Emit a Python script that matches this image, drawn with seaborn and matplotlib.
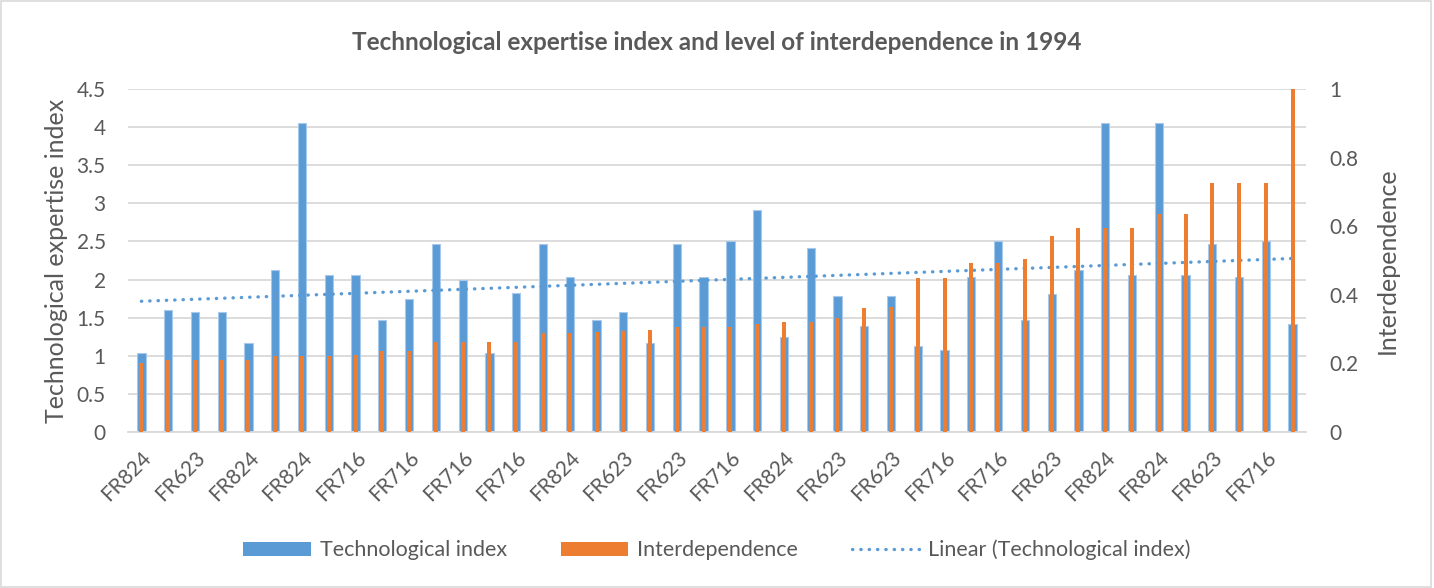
import matplotlib
matplotlib.use("Agg")
import matplotlib.pyplot as plt
import numpy as np
import seaborn as sns
from matplotlib.patches import Patch, Rectangle
from matplotlib.lines import Line2D
from matplotlib.ticker import FuncFormatter, MultipleLocator

# Values (44 categories, every other label shown)
shown_labels = ["FR824", "FR623", "FR824", "FR824", "FR716", "FR716", "FR716", "FR716",
                "FR824", "FR623", "FR623", "FR716", "FR824", "FR623", "FR623", "FR716",
                "FR716", "FR623", "FR824", "FR824", "FR623", "FR716"]

tech_index = [1.04, 1.60, 1.58, 1.58, 1.17, 2.12, 4.05, 2.06, 2.06, 1.47, 1.75, 2.46,
              1.99, 1.04, 1.83, 2.46, 2.03, 1.47, 1.58, 1.17, 2.46, 2.03, 2.51, 2.91,
              1.25, 2.42, 1.78, 1.39, 1.78, 1.13, 1.08, 2.03, 2.51, 1.47, 1.81, 2.12,
              4.05, 2.06, 4.05, 2.06, 2.46, 2.03, 2.51, 1.42]

interdependence = [0.20, 0.21, 0.21, 0.21, 0.21, 0.222, 0.222, 0.222, 0.224, 0.236, 0.236,
                   0.261, 0.261, 0.263, 0.263, 0.288, 0.288, 0.292, 0.294, 0.296, 0.306,
                   0.306, 0.306, 0.314, 0.322, 0.322, 0.333, 0.361, 0.363, 0.45, 0.45,
                   0.493, 0.493, 0.503, 0.571, 0.595, 0.595, 0.595, 0.637, 0.637, 0.727,
                   0.727, 0.727, 1.0]

BLUE = "#5B9BD5"
ORANGE = "#ED7D31"
TEXT = "#595959"
GRID = "#D9D9D9"

sns.set_style("white")
plt.rcParams["font.family"] = ["Lato", "DejaVu Sans"]

positions = list(range(len(tech_index)))

fig = plt.figure(figsize=(14.34, 5.88), dpi=100)
ax1 = fig.add_axes([128 / 1434, 1 - 432 / 588, 1178 / 1434, 343 / 588])

sns.barplot(x=positions, y=tech_index, color=BLUE, width=0.31, saturation=1,
            edgecolor="#A8C9EC", linewidth=0.8, ax=ax1, zorder=2)

# linear trend of the technological index
coef = np.polyfit(positions, tech_index, 1)
trend = np.polyval(coef, positions)
ax1.plot(positions, trend, color=BLUE, linewidth=2.4,
         linestyle=(0, (0.1, 2.4)), dash_capstyle="round", zorder=3)

ax1.set_ylim(0, 4.5)
ax1.set_xlim(-0.5, len(positions) - 0.5)
ax1.yaxis.set_major_locator(MultipleLocator(0.5))
ax1.yaxis.set_major_formatter(FuncFormatter(lambda v, p: f"{v:g}"))
ax1.grid(axis="y", color=GRID, linewidth=1.3, zorder=0)
ax1.set_axisbelow(True)
for s in ["top", "right", "left"]:
    ax1.spines[s].set_visible(False)
ax1.spines["bottom"].set_color(GRID)
ax1.spines["bottom"].set_linewidth(1.3)

ax1.set_xticks(positions[::2])
ax1.set_xticklabels(shown_labels, rotation=45, ha="right", rotation_mode="anchor",
                    fontsize=15, color=TEXT)
ax1.tick_params(axis="x", length=0, pad=11)
ax1.tick_params(axis="y", length=0, labelsize=15, labelcolor=TEXT, pad=16)
ax1.set_ylabel("Technological expertise index", fontsize=18, color=TEXT, labelpad=6)
ax1.set_xlabel("")

ax2 = ax1.twinx()
sns.barplot(x=positions, y=interdependence, color=ORANGE, width=0.15, saturation=1,
            linewidth=0, ax=ax2, zorder=4)
ax2.set_ylim(0, 1)
ax2.set_xlim(-0.5, len(positions) - 0.5)
ax2.yaxis.set_major_locator(MultipleLocator(0.2))
ax2.yaxis.set_major_formatter(FuncFormatter(lambda v, p: f"{v:g}"))
ax2.tick_params(axis="y", length=0, labelsize=15, labelcolor=TEXT, pad=17)
ax2.set_ylabel("Interdependence", fontsize=18, color=TEXT, labelpad=12)
ax2.grid(False)
for s in ax2.spines.values():
    s.set_visible(False)

fig.text(0.5, 1 - 42 / 588, "Technological expertise index and level of interdependence in 1994",
         ha="center", va="center", fontsize=17.5, fontweight="bold", color=TEXT)

handles = [Patch(facecolor=BLUE, edgecolor="none"),
           Patch(facecolor=ORANGE, edgecolor="none"),
           Line2D([0], [0], color=BLUE, linewidth=2.4, linestyle=(0, (0.1, 2.4)),
                  dash_capstyle="round")]
labels = ["Technological index", "Interdependence", "Linear (Technological index)"]
leg = fig.legend(handles, labels, loc="center", bbox_to_anchor=(0.5, 1 - 550 / 588),
                 ncol=3, frameon=False, fontsize=15.5, handlelength=3.15, handleheight=0.6,
                 columnspacing=2.5, handletextpad=0.4)
for t in leg.get_texts():
    t.set_color(TEXT)

fig.patches.append(Rectangle((0.001, 0.002), 0.997, 0.996, transform=fig.transFigure,
                             fill=False, edgecolor=GRID, linewidth=1.2))

fig.savefig("out.png", dpi=100)
